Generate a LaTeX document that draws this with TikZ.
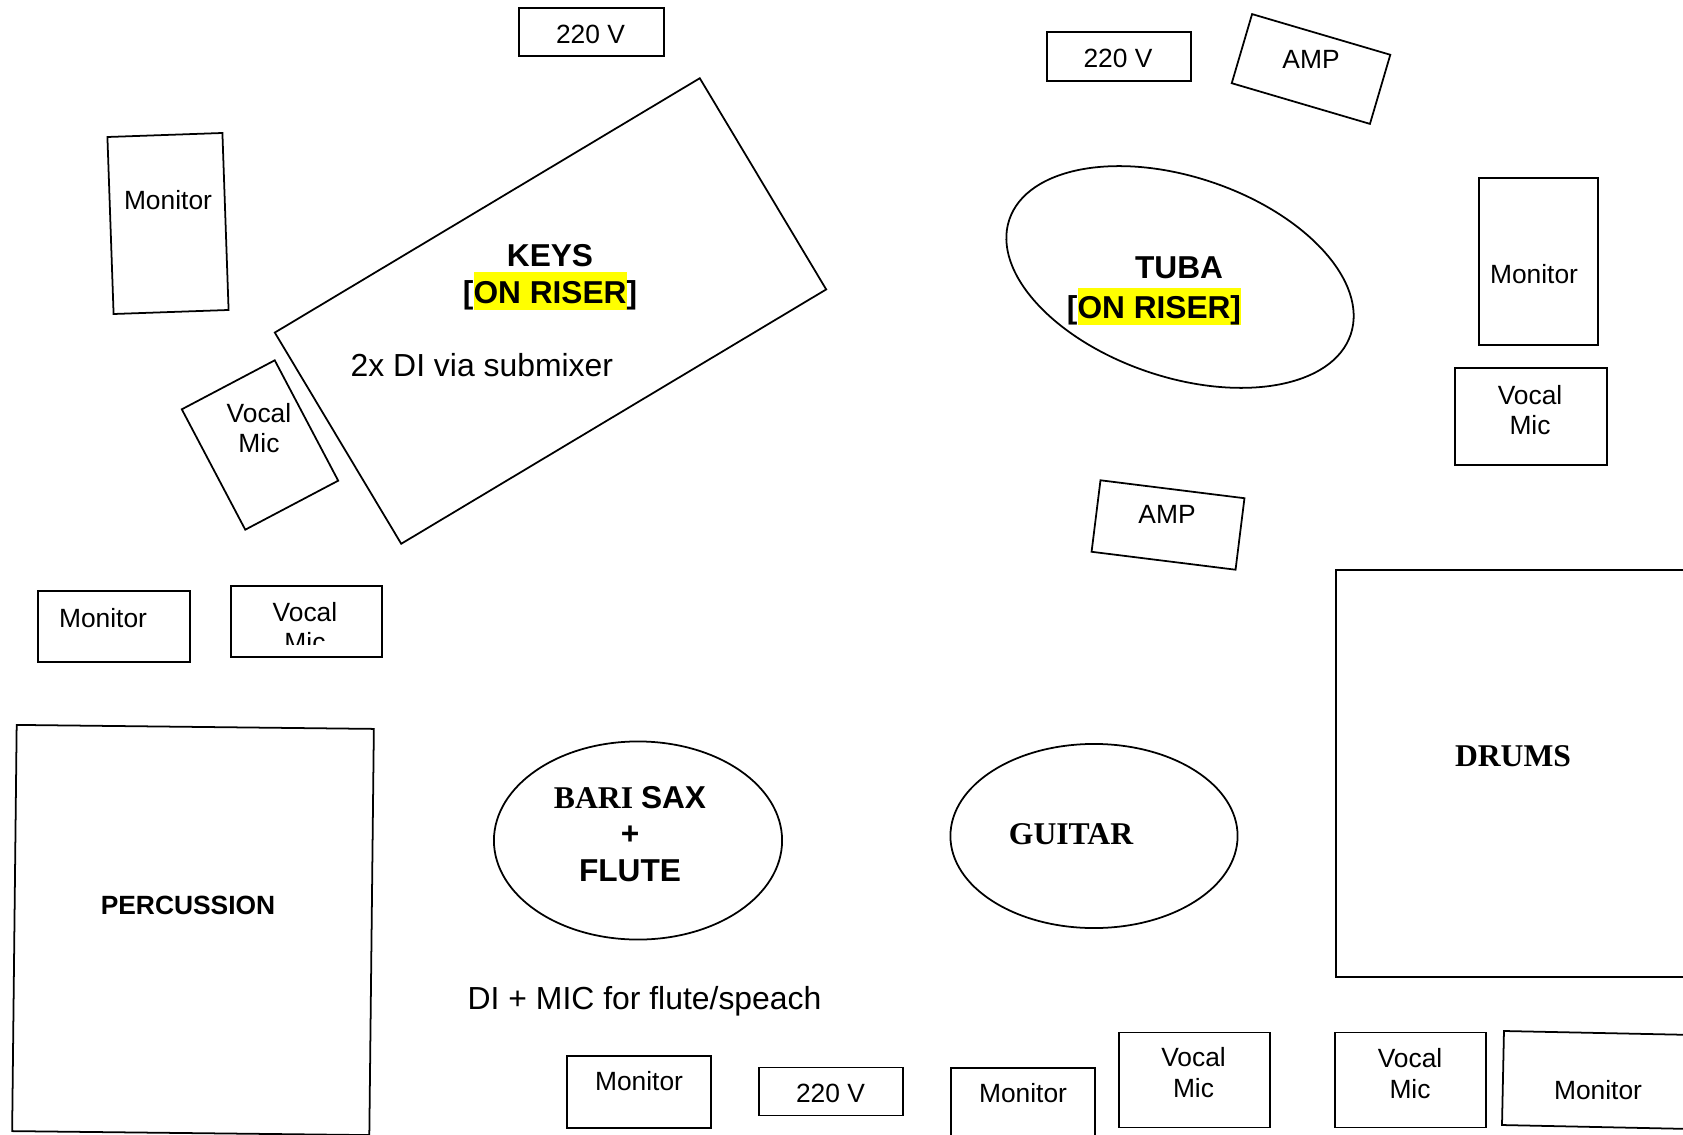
\documentclass[tikz,border=0pt]{standalone}
\usepackage{fontspec}
\setmainfont{Liberation Sans}
\newfontfamily\timesfont{Liberation Serif}
\newfontfamily\arialfont{Liberation Sans}
\usepackage{xcolor}
\usetikzlibrary{shapes.geometric}
\definecolor{riser}{HTML}{FFFF00}
\newcommand{\riser}[1]{{\setlength{\fboxsep}{0pt}\colorbox{riser}{\rule[-0.23em]{0pt}{1.2em}#1}}}

\begin{document}
\begin{tikzpicture}[x=0.01cm,y=-0.01cm,
    gear/.style={draw,line width=0.5pt,inner sep=0pt},
    tag/.style={inner sep=0pt,font=\fontsize{7.5}{8.6}\selectfont,align=center},
    act/.style={inner sep=0pt,font=\bfseries\fontsize{9}{10.3}\selectfont,align=center},
    actrm/.style={act,font=\timesfont\bfseries\fontsize{9}{10.3}\selectfont},
    note/.style={inner sep=0pt,font=\fontsize{9.07}{11}\selectfont}]
    \useasboundingbox (0,0) rectangle (1683,1134);
    \clip (0,0) rectangle (1683,1134);
    % boxes standing square to the stage
    \foreach \n/\x/\y/\w/\h in {pwrA/591.5/32/1.45/0.48, pwrB/1119/56.5/1.44/0.49,
        monB/1538.5/261.5/1.19/1.67, vmicB/1531/416.5/1.52/0.97,
        monC/114/626.5/1.52/0.71, vmicC/306.5/621.5/1.51/0.71,
        drums/1513/773.5/3.54/4.07, monD/639/1092/1.44/0.72,
        pwrC/831/1091.5/1.44/0.48, monE/1023/1104/1.44/0.72,
        vmicD/1194.5/1080/1.51/0.95, vmicE/1410.5/1080/1.51/0.95}
    {
        \node[gear,minimum width=\w cm,minimum height=\h cm] (\n) at (\x,\y) {};
    }
    % turned boxes
    \foreach \n/\x/\y/\w/\h/\a in {ampA/1311/69/1.44/0.72/-16.4,
        monA/168/223.5/1.15/1.77/2, keys/550.5/311/4.95/2.46/30.9,
        vmicA/260/445/1.05/1.36/27.8, ampB/1168/525/1.45/0.72/-7.1,
        perc/193/930/3.57/4.06/-0.64, monF/1598/1080/1.90/0.94/-1.2}
    {
        \node[gear,minimum width=\w cm,minimum height=\h cm,rotate=\a] (\n) at (\x,\y) {};
    }
    % riser and floor spots
    \node[gear,ellipse,minimum width=3.6cm,minimum height=2cm,rotate=-18.6] (tuba) at (1180,277) {};
    \node[gear,ellipse,minimum width=2.88cm,minimum height=1.98cm] (bari) at (638,840.5) {};
    \node[gear,ellipse,minimum width=2.87cm,minimum height=1.84cm] (guitar) at (1094,836) {};

    \foreach \n/\x/\y in {monA-t/168/200, monB-t/1534/274, monC-t/103/618,
        monD-t/639/1081, monE-t/1023/1093, monF-t/1598/1090}
    {
        \node[tag] (\n) at (\x,\y) {Monitor};
    }
    \foreach \n/\x/\y in {pwrA-t/590.5/34, pwrB-t/1118/58, pwrC-t/830.5/1093}
    {
        \node[tag] (\n) at (\x,\y) {220 V};
    }
    \foreach \n/\x/\y in {ampA-t/1311/59, ampB-t/1167/514}
    {
        \node[tag] (\n) at (\x,\y) {AMP};
    }
    \foreach \n/\x/\y in {vmicA-t/259/428, vmicB-t/1530/410,
        vmicD-t/1193.5/1072.5, vmicE-t/1410/1073.5}
    {
        \node[tag] (\n) at (\x,\y) {Vocal\\Mic};
    }
    \begin{scope}
        \clip (231,586) rectangle (382,644);
        \node[tag] (vmicC-t) at (305,627) {Vocal\\Mic};
    \end{scope}

    \node[act] (keys-t) at (550,277.5) {KEYS\\{}[\riser{ON RISER}]};
    \node[act] (tuba-t) at (1179,268) {TUBA};
    \node[act] (tuba-r) at (1154,306.5) {[\riser{ON RISER]}};
    \node[act] (bari-t) at (630,834) {\timesfont BARI \arialfont SAX\\+\\FLUTE};
    \node[actrm] (guitar-t) at (1071,834) {GUITAR};
    \node[actrm] (drums-t) at (1513,756) {DRUMS};
    \node[tag,font=\bfseries\fontsize{7.5}{8.6}\selectfont] (perc-t) at (188,905) {PERCUSSION};
    \node[note,anchor=west] (keys-n) at (350,365.5) {2x DI via submixer};
    \node[note,anchor=west] (bari-n) at (467,1001) {DI + MIC for flute/speach};
\end{tikzpicture}
\end{document}
